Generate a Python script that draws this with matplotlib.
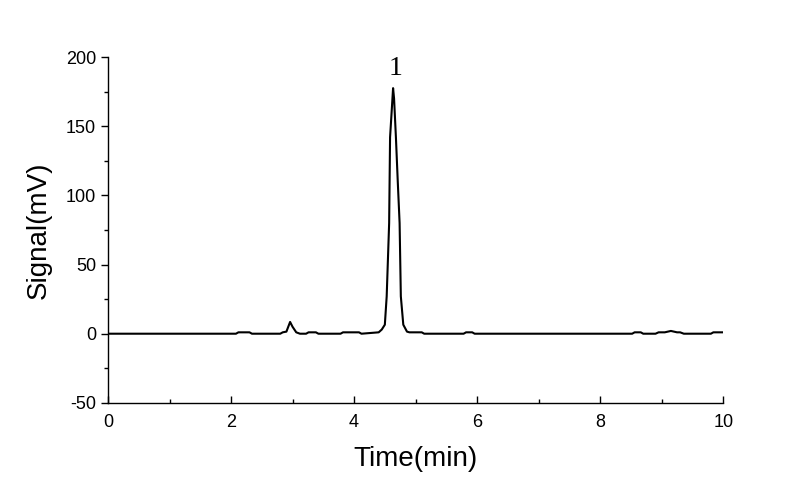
import matplotlib
matplotlib.use('Agg')
from matplotlib import pyplot as plt
from matplotlib.ticker import MultipleLocator

matplotlib.rcParams['font.family'] = ['Liberation Sans', 'DejaVu Sans']
matplotlib.rcParams['axes.unicode_minus'] = False

#%% Data
time = [0.0, 2.08, 2.12, 2.3, 2.34, 2.80, 2.84, 2.90, 2.96, 3.00, 3.06, 3.12,
        3.22, 3.26, 3.38, 3.42, 3.78, 3.82, 4.08, 4.12, 4.40, 4.45, 4.50, 4.53,
        4.57, 4.585, 4.61, 4.634, 4.65, 4.68, 4.71, 4.74, 4.76, 4.80, 4.86,
        4.90, 5.10, 5.14, 5.78, 5.82, 5.92, 5.96, 8.52, 8.56, 8.66, 8.70,
        8.90, 8.95, 9.05, 9.15, 9.25, 9.30, 9.36, 9.80, 9.84, 10.0]
signal = [0.0, 0.0, 1.0, 1.0, 0.0, 0.0, 1.0, 1.5, 8.5, 5.0, 1.0, 0.0,
          0.0, 1.0, 1.0, 0.0, 0.0, 1.0, 1.0, 0.0, 1.0, 3.0, 6.5, 27.0,
          80.0, 142.0, 160.0, 177.5, 170.0, 142.0, 110.0, 80.0, 27.0, 6.5, 1.5,
          1.0, 1.0, 0.0, 0.0, 1.0, 1.0, 0.0, 0.0, 1.0, 1.0, 0.0,
          0.0, 1.0, 1.0, 2.0, 1.0, 1.0, 0.0, 0.0, 1.0, 1.0]

peak_label = '1'
peak_pos = (4.68, 187)

#%% Plot
fig = plt.figure(figsize=(8, 4.98), dpi=100)
ax = fig.add_axes([0.135, 0.191, 0.769, 0.6945])
ax.plot(time, signal, color='k', linewidth=1.5)

ax.text(peak_pos[0], peak_pos[1], peak_label, family=['Liberation Serif', 'DejaVu Serif'],
        fontsize=20, ha='center', va='baseline')

ax.set_xlim(0, 10)
ax.set_ylim(-50, 200)
ax.xaxis.set_major_locator(MultipleLocator(2))
ax.xaxis.set_minor_locator(MultipleLocator(1))
ax.yaxis.set_major_locator(MultipleLocator(50))
ax.yaxis.set_minor_locator(MultipleLocator(25))

for side in ['top', 'right']:
    ax.spines[side].set_visible(False)
for side in ['left', 'bottom']:
    ax.spines[side].set_linewidth(1.0)

ax.tick_params(axis='y', which='major', direction='out', length=5, width=1, labelsize=13)
ax.tick_params(axis='y', which='minor', direction='out', length=3, width=1)
ax.tick_params(axis='x', which='major', direction='in', length=5, width=1, labelsize=13, pad=8)
ax.tick_params(axis='x', which='minor', direction='in', length=3, width=1)

ax.set_xlabel('Time(min)', fontsize=20, labelpad=11)
ax.set_ylabel('Signal(mV)', fontsize=20, labelpad=10)

plt.savefig('out.png', dpi=100)
plt.close()
